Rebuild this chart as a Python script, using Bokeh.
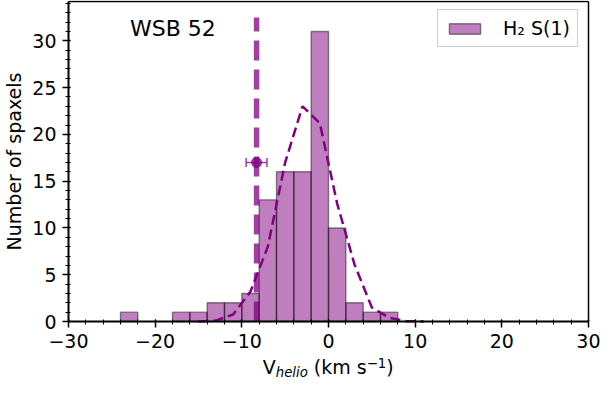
import math
from bokeh.plotting import figure
from bokeh.models import (SingleIntervalTicker, FixedTicker, Range1d, Label, Whisker,
                          TeeHead, ColumnDataSource, LinearAxis)
from bokeh.embed import file_html
from bokeh.resources import INLINE

# ---------------- data ----------------
bin_left = [-24, -18, -16, -14, -12, -10, -8, -6, -4, -2, 0, 2, 4, 6]
bin_counts = [1, 1, 1, 2, 2, 3, 13, 16, 16, 31, 10, 2, 1, 1]
bin_width = 2

curve_v = [-15, -13, -11, -9, -7, -5, -3, -1, 1, 3, 5, 7, 9, 11]
curve_n = [0, 0.1, 0.75, 3.2, 8.0, 17.0, 23.0, 21.2, 12.6, 6.1, 1.5, 0.4, 0.03, 0]

v_mean = -8.3
v_mean_err = 1.2
marker_n = 17.0
vline_top = 32.5

x_ticks = [-30, -20, -10, 0, 10, 20, 30]
x_lim = (-30, 30)
y_lim = (0, 34.2)

title_text = "WSB 52"
legend_text = "H\u2082 S(1)"
ylabel_text = "Number of spaxels"

# ---------------- layout (the plot frame fills the canvas; axes sit at fixed places) ----
FONT = "DejaVu Sans"
W, H = 600, 379
BOX_L, BOX_R, BOX_T, BOX_B = 68, 588, 1, 321      # axes box in canvas pixels
PPU_X = (BOX_R - BOX_L) / (x_lim[1] - x_lim[0])
PPU_Y = (BOX_B - BOX_T) / (y_lim[1] - y_lim[0])
xr = (x_lim[0] - BOX_L / PPU_X, x_lim[1] + (W - BOX_R) / PPU_X)
yr = (y_lim[0] - (H - BOX_B) / PPU_Y, y_lim[1] + BOX_T / PPU_Y)
TEXT_SHIFT = 0.41      # svg alphabetic-baseline correction (fraction of font size)


def cx(col):
    return xr[0] + col / PPU_X


def cy(row, fs=0):
    return y_lim[0] + (BOX_B - (row - TEXT_SHIFT * fs)) / PPU_Y


p = figure(width=W, height=H, min_border=0,
           min_border_left=0, min_border_right=0, min_border_top=0, min_border_bottom=0,
           x_range=Range1d(*xr), y_range=Range1d(*yr),
           output_backend="svg", toolbar_location=None, tools="")
p.background_fill_color = "white"
p.border_fill_color = "white"
p.outline_line_color = None
p.xgrid.visible = False
p.ygrid.visible = False

p.xaxis.ticker = SingleIntervalTicker(interval=10, num_minor_ticks=5)
p.yaxis.ticker = SingleIntervalTicker(interval=5, num_minor_ticks=5)
p.xaxis.major_label_overrides = {t: str(t).replace("-", "\u2212") for t in x_ticks}
p.xaxis.fixed_location = y_lim[0]
p.xaxis.bounds = x_lim
p.yaxis.fixed_location = x_lim[0]
p.yaxis.bounds = y_lim

for ax in (p.xaxis[0], p.yaxis[0]):
    ax.axis_line_color = "black"
    ax.axis_line_width = 2
    ax.major_tick_line_color = "black"
    ax.major_tick_line_width = 1.5
    ax.minor_tick_line_color = "black"
    ax.minor_tick_line_width = 1
    ax.major_tick_out = 6
    ax.major_tick_in = 2
    ax.minor_tick_out = 3
    ax.minor_tick_in = 2
    ax.major_label_text_font = FONT
    ax.major_label_text_font_size = "19px"
    ax.major_label_text_color = "black"
    ax.major_label_standoff = 6

p.xaxis.axis_label = None
p.yaxis.axis_label = ylabel_text
p.yaxis.axis_label_text_font = FONT
p.yaxis.axis_label_text_font_size = "19px"
p.yaxis.axis_label_text_font_style = "normal"
p.yaxis.axis_label_text_color = "black"
p.yaxis.axis_label_standoff = 4

# top and right spines of the axes box
for place, loc, bnds in (("above", y_lim[1], x_lim), ("right", x_lim[1], y_lim)):
    sp = LinearAxis(fixed_location=loc, bounds=bnds, ticker=FixedTicker(ticks=[]),
                    axis_line_color="black", axis_line_width=1.5,
                    major_tick_line_color=None, minor_tick_line_color=None,
                    major_tick_out=0, minor_tick_out=0, major_tick_in=0, minor_tick_in=0,
                    major_label_text_alpha=0)
    p.add_layout(sp, place)

# histogram
src = ColumnDataSource(dict(left=bin_left,
                            right=[b + bin_width for b in bin_left],
                            top=bin_counts,
                            bottom=[0] * len(bin_left)))
p.quad(left="left", right="right", top="top", bottom="bottom", source=src,
       fill_color="purple", fill_alpha=0.5, line_color="black", line_alpha=0.45,
       line_width=1.4, legend_label=legend_text)

# fitted curve
p.line(curve_v, curve_n, line_color="purple", line_width=2.5, line_dash="10 5")

# mean velocity line
p.segment(x0=[v_mean], y0=[0], x1=[v_mean], y1=[vline_top], line_color="purple",
          line_alpha=0.75, line_width=5.5, line_dash="20 9")

# error bar point
err_src = ColumnDataSource(dict(base=[marker_n], lower=[v_mean - v_mean_err],
                                upper=[v_mean + v_mean_err]))
w = Whisker(source=err_src, base="base", lower="lower", upper="upper",
            dimension="width", line_color="purple", line_alpha=0.75, line_width=1.5,
            lower_head=TeeHead(size=9, line_color="purple", line_alpha=0.75, line_width=1.5),
            upper_head=TeeHead(size=9, line_color="purple", line_alpha=0.75, line_width=1.5))
p.add_layout(w)
p.scatter([v_mean], [marker_n], size=10, fill_color="purple", fill_alpha=0.75,
          line_color="purple", line_alpha=0.75)

# title text inside axes
p.add_layout(Label(x=cx(129.5), y=cy(37.5, 22), text=title_text, text_font=FONT,
                   text_font_size="22px", text_baseline="alphabetic",
                   text_align="left", text_color="black"))

# legend (bottom-left corner in canvas pixels from the bottom-left)
lg = p.legend[0]
lg.location = (437, H - 47)
lg.padding = 7
lg.spacing = 0
lg.border_line_color = "#cccccc"
lg.border_line_width = 1
lg.border_line_alpha = 1
lg.background_fill_alpha = 0.8
lg.glyph_width = 39
lg.glyph_height = 13
lg.label_standoff = 19
lg.label_text_font = FONT
lg.label_text_font_size = "19px"
lg.label_text_color = "black"

# ---------------- x-axis label: V_helio (km s^-1) ----------------
label_left = (BOX_L + BOX_R) / 2 - 65.8    # canvas column of the label's left edge
base_row = 374.0                           # canvas row of the label baseline
pieces = [
    ("V", 0.0, 0, 19, "normal"),
    ("helio", 13.0, 3.5, 13.3, "italic"),
    ("(km s", 51.1, 0, 19, "normal"),
    ("\u22121", 104.0, -6.5, 13.3, "normal"),
    (")", 123.6, 0, 19, "normal"),
]
for txt, dx, drow, fs, st in pieces:
    p.add_layout(Label(x=cx(label_left + dx), y=cy(base_row + drow, fs), text=txt,
                       text_font=FONT, text_font_size=f"{fs}px", text_font_style=st,
                       text_baseline="alphabetic", text_align="left",
                       text_color="black"))

open("out.html", "w").write(file_html(p, INLINE))
